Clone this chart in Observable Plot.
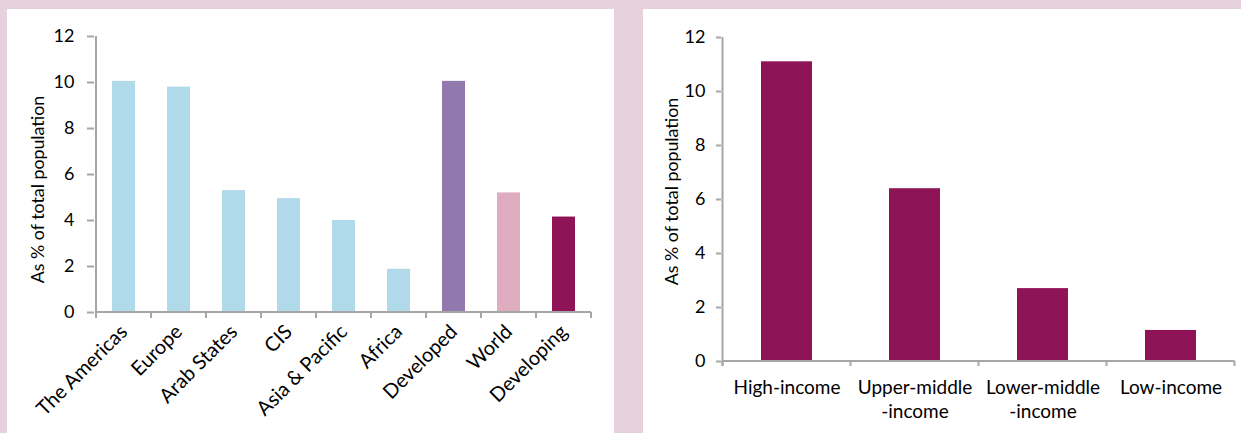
<!DOCTYPE html>
<html><head><meta charset="utf-8">
<script src="https://cdn.jsdelivr.net/npm/d3@7"></script>
<script src="https://cdn.jsdelivr.net/npm/@observablehq/plot@0.6"></script>
<style>
html,body{margin:0;padding:0;background:#e6d1dc;width:1241px;height:433px;overflow:hidden;}
.panel{position:absolute;background:#fff;top:9px;height:424px;}
#left{left:7px;width:607px;}
#right{left:643px;width:598px;}
svg{display:block;}
</style></head><body>
<div id="left" class="panel"></div><div id="right" class="panel"></div>
<script>
// ---- data ----
const regions = ["The Americas","Europe","Arab States","CIS","Asia & Pacific","Africa","Developed","World","Developing"];
const regionShares = [10.05, 9.8, 5.3, 4.95, 4.0, 1.88, 10.05, 5.2, 4.15];
const regionGroups = ["region","region","region","region","region","region","developed","world","developing"];
const groupNames = ["region","developed","world","developing"];
const groupColors = ["#b0d9ea","#9179ad","#dfabbe","#8f1457"];
const incomeGroups = ["High-income","Upper-middle\n-income","Lower-middle\n-income","Low-income"];
const incomeShares = [11.1, 6.4, 2.7, 1.15];
const yTicks = [0,2,4,6,8,10,12];
const yLabel = "As % of total population";

const axisColor = "#a6a6a6";
const font = "Lato, 'Open Sans', sans-serif";

// custom axis lines & band-boundary ticks, drawn from the plot's own scales
function axisFrame(tickLen) {
  return (index, scales, values, dim) => {
    const x = scales.x, y = scales.y;
    const dom = x.domain();
    const bw = typeof x.bandwidth === "function" ? x.bandwidth() : x.bandwidth;
    const step = typeof x.step === "function" ? x.step() : (x(dom[1]) - x(dom[0]));
    const start = x(dom[0]) + bw / 2 - step / 2;
    const y0 = y(0), yTop = y(y.domain()[1]);
    const g = d3.create("svg:g").attr("stroke", axisColor).attr("stroke-width", 2).attr("fill", "none");
    g.append("line").attr("x1", start).attr("x2", start).attr("y1", y0 + tickLen).attr("y2", yTop);
    g.append("line").attr("x1", start).attr("x2", start + step * dom.length).attr("y1", y0).attr("y2", y0);
    for (let i = 0; i <= dom.length; i++) {
      const xb = start + i * step;
      g.append("line").attr("x1", xb).attr("x2", xb).attr("y1", y0).attr("y2", y0 + tickLen);
    }
    return g.node();
  };
}

// ---- left chart ----
const leftData = regions.map((r, i) => ({region: r, share: regionShares[i], group: regionGroups[i]}));
const left = Plot.plot({
  width: 607, height: 424,
  marginLeft: 87, marginRight: 21, marginTop: 27, marginBottom: 121,
  style: {fontFamily: font, fontSize: "18px", color: "#000", background: "transparent", overflow: "visible"},
  x: {domain: regions, paddingInner: 0.58, paddingOuter: 0.29},
  y: {domain: [0, 12]},
  color: {domain: groupNames, range: groupColors},
  marks: [
    Plot.barY(leftData, {x: "region", y: "share", fill: "group"}),
    Plot.axisY({ticks: yTicks, tickSize: 7, tickPadding: 13, stroke: axisColor, strokeWidth: 2, fill: "#000", label: null, fontSize: 18}),
    Plot.axisX({tickSize: 0, tickRotate: -45, tickPadding: 16, label: null, fill: "#000", fontSize: 20}),
    axisFrame(6),
    Plot.text([yLabel], {frameAnchor: "left", textAnchor: "middle", rotate: -90, dx: -56, dy: 15, fontSize: 17.8, fill: "#000"})
  ]
});
document.getElementById("left").append(left);

// ---- right chart ----
const rightData = incomeGroups.map((g, i) => ({group: g, share: incomeShares[i]}));
const right = Plot.plot({
  width: 598, height: 424,
  marginLeft: 78, marginRight: 5, marginTop: 28, marginBottom: 72,
  style: {fontFamily: font, fontSize: "18px", color: "#000", background: "transparent", overflow: "visible"},
  x: {domain: incomeGroups, paddingInner: 0.6, paddingOuter: 0.3},
  y: {domain: [0, 12]},
  marks: [
    Plot.barY(rightData, {x: "group", y: "share", fill: groupColors[3]}),
    Plot.axisY({ticks: yTicks, tickSize: 5, tickPadding: 11, stroke: axisColor, strokeWidth: 2, fill: "#000", label: null, fontSize: 18}),
    Plot.axisX({tickSize: 0, tickPadding: 15, label: null, fill: "#000", fontSize: 19, lineHeight: 1.27}),
    axisFrame(5),
    Plot.text([yLabel], {frameAnchor: "left", textAnchor: "middle", rotate: -90, dx: -49, dy: -8, fontSize: 17.8, fill: "#000"})
  ]
});
document.getElementById("right").append(right);
</script>
</body></html>
